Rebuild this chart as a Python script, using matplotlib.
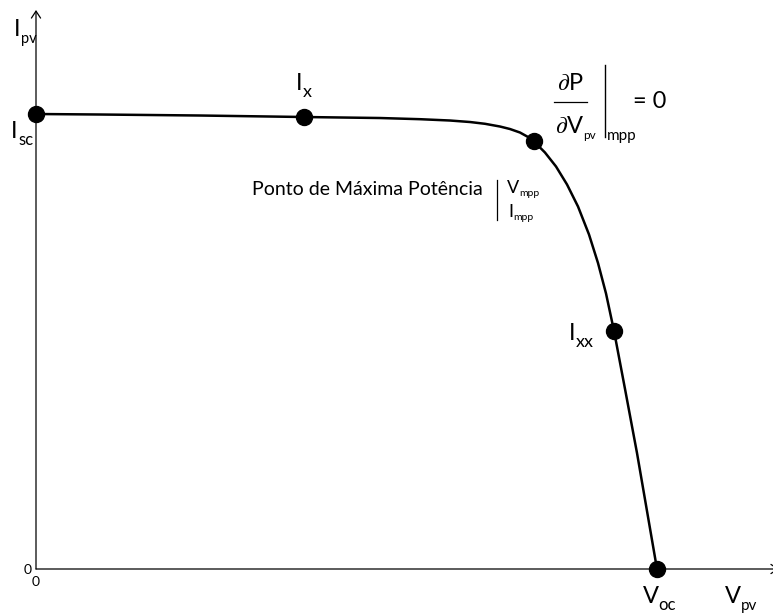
import matplotlib
matplotlib.use("Agg")
import matplotlib.pyplot as plt

plt.rcParams["font.family"] = ["Lato", "DejaVu Sans"]
plt.rcParams["mathtext.fontset"] = "stix"

# Curva I-V normalizada (V/Voc, I/Isc)
v_curve = [0.0, 0.1031, 0.2641, 0.4316, 0.5539, 0.6184, 0.6667, 0.6989,
           0.7230, 0.7472, 0.7633, 0.7794, 0.7923, 0.8019, 0.8196, 0.8374,
           0.8551, 0.8728, 0.8905, 0.9050, 0.9179, 0.9308, 0.9485, 0.9678,
           1.0]
i_curve = [1.0, 0.9989, 0.9967, 0.9934, 0.9912, 0.9886, 0.9857, 0.9824,
           0.9785, 0.9725, 0.9670, 0.9593, 0.9495, 0.9396, 0.9154, 0.8846,
           0.8451, 0.7967, 0.7352, 0.6725, 0.6055, 0.5231, 0.3956, 0.2549,
           0.0]

# Pontos destacados sobre a curva
point_names = ["Isc", "Ix", "MPP", "Ixx", "Voc"]
point_v = [0.0, 0.4316, 0.8019, 0.9308, 1.0]
point_i = [1.0, 0.9934, 0.9396, 0.5231, 0.0]

x_max = 1.1868
y_max = 1.2286


def sub_label(ax, x, y, main, sub, size, sub_size, drop, gap=0.5, **kw):
    """Texto com subscrito colado ao lado direito."""
    t = ax.text(x, y, main, fontsize=size, ha="left", va="baseline", **kw)
    ax.annotate(sub, xy=(1, 0), xycoords=t, xytext=(gap, -drop),
                textcoords="offset points", fontsize=sub_size,
                ha="left", va="baseline")
    return t


fig = plt.figure(figsize=(7.73, 6.13), dpi=100)
ax = fig.add_axes([36 / 773, 44 / 613, 737 / 773, 559 / 613])

ax.plot(v_curve, i_curve, color="black", lw=1.8, clip_on=False, zorder=3,
        solid_joinstyle="round")
ax.plot(point_v, point_i, "o", color="black", ms=11.5, clip_on=False, zorder=5)

ax.set_xlim(0, x_max)
ax.set_ylim(0, y_max)
for s in ax.spines.values():
    s.set_visible(False)

# eixos com seta
arrow = dict(arrowstyle="->,head_length=0.5,head_width=0.33", lw=0.9,
             color="black", shrinkA=0, shrinkB=0)
ax.annotate("", xy=(0, y_max), xytext=(0, 0), arrowprops=arrow,
            annotation_clip=False)
ax.annotate("", xy=(1.1965, 0), xytext=(0, 0), arrowprops=arrow,
            annotation_clip=False)

ax.set_xticks([0])
ax.set_yticks([0])
ax.tick_params(length=0, labelsize=10, pad=5)
ax.tick_params(axis="y", pad=3)

# rótulos dos eixos e dos pontos
sub_label(ax, -0.0354, 1.172, "I", "pv", 17, 10.5, 2)
sub_label(ax, -0.0403, 0.947, "I", "sc", 17, 12, 2)
sub_label(ax, 0.4187, 1.0527, "I", "x", 17, 13, 2)
sub_label(ax, 0.858, 0.503, "I", "xx", 17, 13, 2)
sub_label(ax, 0.977, -0.0747, "V", "oc", 17, 12, 2, gap=0)
sub_label(ax, 1.1095, -0.0747, "V", "pv", 17, 11, 2, gap=0)

# ponto de máxima potência
ax.text(0.7198, 0.822, "Ponto de Máxima Potência", fontsize=14,
        ha="right", va="baseline")
ax.plot([0.742, 0.742], [0.767, 0.855], color="black", lw=0.9, clip_on=False)
sub_label(ax, 0.758, 0.826, "V", "mpp", 13, 7.5, 0, gap=0)
sub_label(ax, 0.760, 0.774, "I", "mpp", 13, 7.5, 0, gap=0.5)

# dP/dVpv = 0 no mpp
ax.text(0.8605, 1.0527, r"$\partial$P", fontsize=17, ha="center",
        va="baseline")
ax.plot([0.834, 0.887], [1.0264, 1.0264], color="black", lw=0.9,
        clip_on=False)
sub_label(ax, 0.835, 0.958, r"$\partial$V", "pv", 17, 8.5, 1, gap=0)
ax.plot([0.916, 0.916], [0.949, 1.1077], color="black", lw=1.0,
        clip_on=False)
ax.text(0.919, 0.943, "mpp", fontsize=11, ha="left", va="baseline")
ax.text(0.961, 1.0264, "= 0", fontsize=17, ha="left", va="center")

fig.savefig("out.png", dpi=100)
